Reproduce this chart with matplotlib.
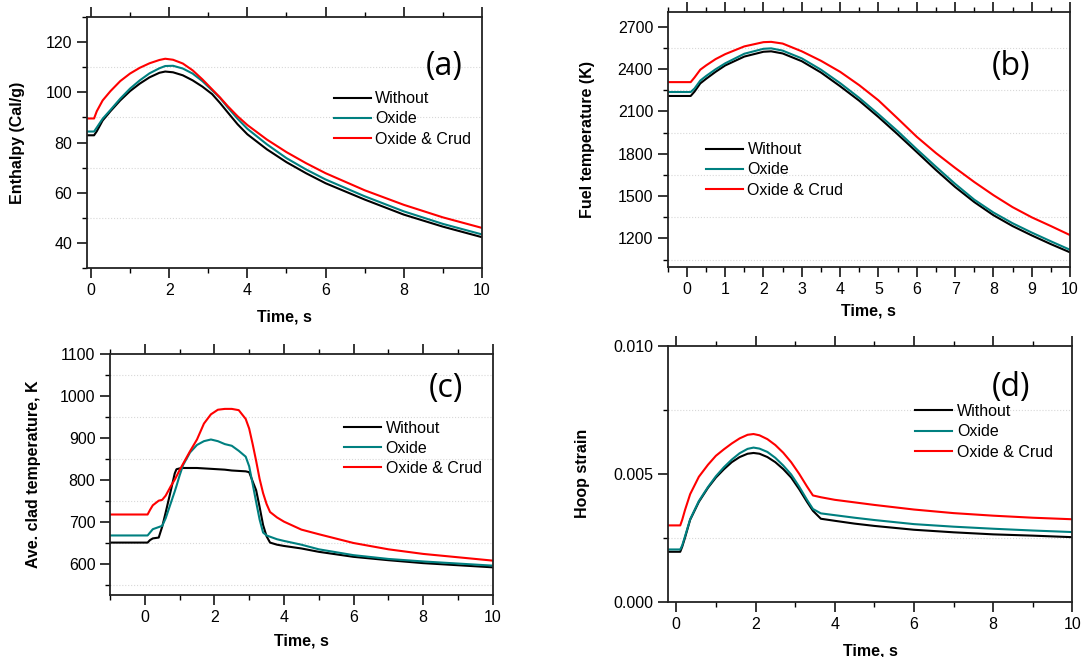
import matplotlib
matplotlib.use("Agg")
import matplotlib.pyplot as plt
from matplotlib.ticker import MultipleLocator, FormatStrFormatter

plt.rcParams['font.family'] = ['Liberation Sans', 'DejaVu Sans']

labels = ['Without', 'Oxide', 'Oxide & Crud']
colors = ['black', '#008080', '#ff0000']

# (a) enthalpy, Cal/g
t_a = [-0.1, 0.08, 0.15, 0.3, 0.5, 0.75, 1.0, 1.25, 1.5, 1.75, 1.9, 2.1, 2.35, 2.6,
       2.85, 3.1, 3.3, 3.5, 3.75, 4.0, 4.5, 5, 5.5, 6, 7, 8, 9, 10]
h_without = [82.9, 82.9, 84.5, 88.8, 92.5, 96.8, 100.5, 103.5, 106.0, 107.8, 108.3, 108.0,
             106.8, 104.8, 102.3, 99.3, 95.8, 92.0, 87.3, 83.3, 77.3, 72.2, 67.8, 63.8,
             57.3, 51.3, 46.5, 42.3]
h_oxide = [84.4, 84.4, 86.0, 89.5, 93.0, 97.5, 101.5, 104.8, 107.6, 109.6, 110.5, 110.6,
           109.5, 107.5, 104.5, 100.8, 97.8, 94.0, 89.5, 85.5, 79.3, 73.8, 69.3, 65.3,
           58.6, 52.6, 47.6, 43.4]
h_crud = [89.6, 89.6, 92.5, 96.8, 100.5, 104.5, 107.5, 109.8, 111.6, 112.9, 113.4, 113.0,
          111.5, 108.8, 105.2, 101.2, 98.0, 94.5, 90.5, 87.0, 81.2, 76.2, 71.8, 67.8,
          61.0, 55.2, 50.2, 46.0]

# (b) fuel temperature, K
t_b = [-0.5, 0.1, 0.2, 0.35, 0.5, 0.75, 1.0, 1.5, 2.0, 2.2, 2.5, 3.0, 3.5, 4.0, 4.5, 5.0,
       5.5, 6.0, 6.5, 7.0, 7.5, 8.0, 8.5, 9.0, 9.5, 10]
f_without = [2209, 2209, 2240, 2298, 2330, 2380, 2425, 2488, 2522, 2525, 2510, 2455, 2375,
             2278, 2175, 2060, 1938, 1812, 1685, 1565, 1458, 1365, 1288, 1222, 1160, 1102]
f_oxide = [2237, 2237, 2262, 2318, 2350, 2398, 2440, 2508, 2543, 2546, 2530, 2475, 2395,
           2300, 2195, 2080, 1960, 1832, 1708, 1587, 1475, 1384, 1308, 1242, 1180, 1120]
f_crud = [2307, 2307, 2340, 2395, 2425, 2470, 2505, 2560, 2590, 2592, 2580, 2525, 2458,
          2380, 2285, 2178, 2050, 1920, 1805, 1700, 1600, 1507, 1422, 1350, 1288, 1224]

# (c) average clad temperature, K
t_c = [-1, 0.08, 0.15, 0.23, 0.4, 0.5, 0.6, 0.75, 0.86, 0.91, 1.0, 1.1, 1.3, 1.5, 1.7,
       1.9, 2.1, 2.3, 2.5, 2.7, 2.9, 3.0, 3.1, 3.2, 3.3, 3.4, 3.5, 3.6, 3.8, 4.0, 4.5,
       5, 6, 7, 8, 9, 10]
c_without = [650, 650, 656, 660, 662, 688, 722, 775, 815, 825, 827, 828, 828, 828, 827,
             826, 825, 824, 822, 821, 820, 818, 796, 775, 735, 692, 665, 650, 645, 642,
             636, 628, 616, 608, 601, 596, 591]
c_oxide = [667, 667, 674, 682, 687, 690, 708, 745, 772, 785, 810, 835, 865, 883, 892,
           896, 892, 885, 881, 869, 855, 832, 790, 747, 705, 674, 667, 664, 658, 654,
           645, 634, 620, 611, 605, 600, 595]
c_crud = [717, 717, 728, 739, 750, 752, 762, 785, 800, 808, 823, 838, 868, 896, 934,
          956, 967, 969, 969, 966, 945, 922, 885, 845, 802, 768, 742, 723, 710, 700,
          681, 670, 649, 634, 623, 615, 607]

# (d) hoop strain (x 1e-3)
t_d = [-0.2, 0.1, 0.15, 0.22, 0.35, 0.57, 0.8, 1.0, 1.2, 1.4, 1.6, 1.8, 1.95, 2.1, 2.3,
       2.5, 2.7, 2.9, 3.1, 3.3, 3.45, 3.65, 4.0, 4.5, 5, 6, 7, 8, 9, 10]
s_without = [1.95, 1.95, 2.15, 2.5, 3.2, 3.9, 4.45, 4.85, 5.17, 5.45, 5.65, 5.78, 5.81,
             5.78, 5.65, 5.45, 5.18, 4.85, 4.4, 3.9, 3.55, 3.24, 3.16, 3.05, 2.96, 2.81,
             2.71, 2.63, 2.58, 2.52]
s_oxide = [2.04, 2.04, 2.2, 2.55, 3.22, 3.93, 4.48, 4.9, 5.25, 5.55, 5.8, 5.97, 6.02,
           5.98, 5.85, 5.62, 5.32, 4.97, 4.5, 3.98, 3.62, 3.45, 3.38, 3.28, 3.19, 3.03,
           2.93, 2.85, 2.78, 2.72]
s_crud = [2.98, 2.98, 3.2, 3.58, 4.2, 4.88, 5.35, 5.7, 5.95, 6.18, 6.38, 6.52, 6.55, 6.5,
          6.35, 6.12, 5.82, 5.45, 5.0, 4.5, 4.15, 4.08, 3.98, 3.88, 3.78, 3.6, 3.46, 3.36,
          3.28, 3.22]
s_without = [v / 1000 for v in s_without]
s_oxide = [v / 1000 for v in s_oxide]
s_crud = [v / 1000 for v in s_crud]

panels = [
    dict(rect=[0.0802, 0.592, 0.364, 0.382], t=t_a, ys=[h_without, h_oxide, h_crud],
         xlim=(-0.1, 10), ylim=(30, 130), xmaj=2, xmin=1, ymaj=20, ymin=10, fmt='%d',
         ylabel='Enthalpy (Cal/g)', tag='(a)', tagpos=(0.904, 0.805),
         legpos=(0.625, 0.705), ylabx=-0.157, xlaby=-0.167),
    dict(rect=[0.6154, 0.594, 0.3708, 0.387], t=t_b, ys=[f_without, f_oxide, f_crud],
         xlim=(-0.5, 10), ylim=(1000, 2800), xmaj=1, xmin=0.5, ymaj=300, ymin=150, fmt='%d',
         ylabel='Fuel temperature (K)', tag='(b)', tagpos=(0.853, 0.789),
         legpos=(0.095, 0.49), ylabx=-0.181, xlaby=-0.144),
    dict(rect=[0.1014, 0.0944, 0.3527, 0.3668], t=t_c, ys=[c_without, c_oxide, c_crud],
         xlim=(-1, 10), ylim=(525, 1100), xmaj=2, xmin=1, ymaj=100, ymin=50, fmt='%d',
         ylabel='Ave. clad temperature, K', tag='(c)', tagpos=(0.877, 0.855),
         legpos=(0.612, 0.724), ylabx=-0.181, xlaby=-0.159),
    dict(rect=[0.616, 0.0842, 0.3724, 0.3896], t=t_d, ys=[s_without, s_oxide, s_crud],
         xlim=(-0.2, 10), ylim=(0, 0.010), xmaj=2, xmin=1, ymaj=0.005, ymin=0.0025,
         fmt='%.3f', ylabel='Hoop strain', tag='(d)', tagpos=(0.848, 0.835),
         legpos=(0.611, 0.772), ylabx=-0.194, xlaby=-0.1625),
]

fig = plt.figure(figsize=(10.85, 6.57), dpi=100)

for p in panels:
    ax = fig.add_axes(p['rect'])
    for y, lab, col in zip(p['ys'], labels, colors):
        ax.plot(p['t'], y, color=col, lw=1.5, label=lab)
    ax.set_xlim(*p['xlim'])
    ax.set_ylim(*p['ylim'])
    ax.xaxis.set_major_locator(MultipleLocator(p['xmaj']))
    ax.xaxis.set_minor_locator(MultipleLocator(p['xmin']))
    ax.yaxis.set_major_locator(MultipleLocator(p['ymaj']))
    ax.yaxis.set_minor_locator(MultipleLocator(p['ymin']))
    ax.yaxis.set_major_formatter(FormatStrFormatter(p['fmt']))

    # dotted grid only at the minor (in-between) y positions
    lo, hi = p['ylim']
    step = p['ymin']
    n = 1
    while n * step < hi:
        v = n * step
        if v > lo and n % 2 == 1:
            ax.axhline(v, color='#d8d8d8', lw=0.8, ls=':', zorder=0)
        n += 1

    ax.tick_params(which='both', direction='out', top=True, right=False,
                   labelsize=11.5, colors='black')
    ax.tick_params(which='major', length=7, width=1.1)
    ax.tick_params(which='minor', length=3.5, width=1.0)
    ax.tick_params(axis='x', pad=4)
    for s in ax.spines.values():
        s.set_linewidth(1.3)
        s.set_color('#222222')

    ax.set_xlabel('Time, s', fontsize=11.5, fontweight='bold')
    ax.set_ylabel(p['ylabel'], fontsize=11.5, fontweight='bold')
    ax.xaxis.set_label_coords(0.5, p['xlaby'])
    ax.yaxis.set_label_coords(p['ylabx'], 0.5)

    ax.text(p['tagpos'][0], p['tagpos'][1], p['tag'], transform=ax.transAxes,
            fontsize=23, family=['Open Sans', 'DejaVu Sans'], ha='center', va='center')

    ax.legend(loc='upper left', bbox_to_anchor=p['legpos'], frameon=False,
              fontsize=11.5, handlelength=2.3, handletextpad=0.3, labelspacing=0.33,
              borderpad=0, borderaxespad=0)

fig.savefig('out.png', dpi=100)
